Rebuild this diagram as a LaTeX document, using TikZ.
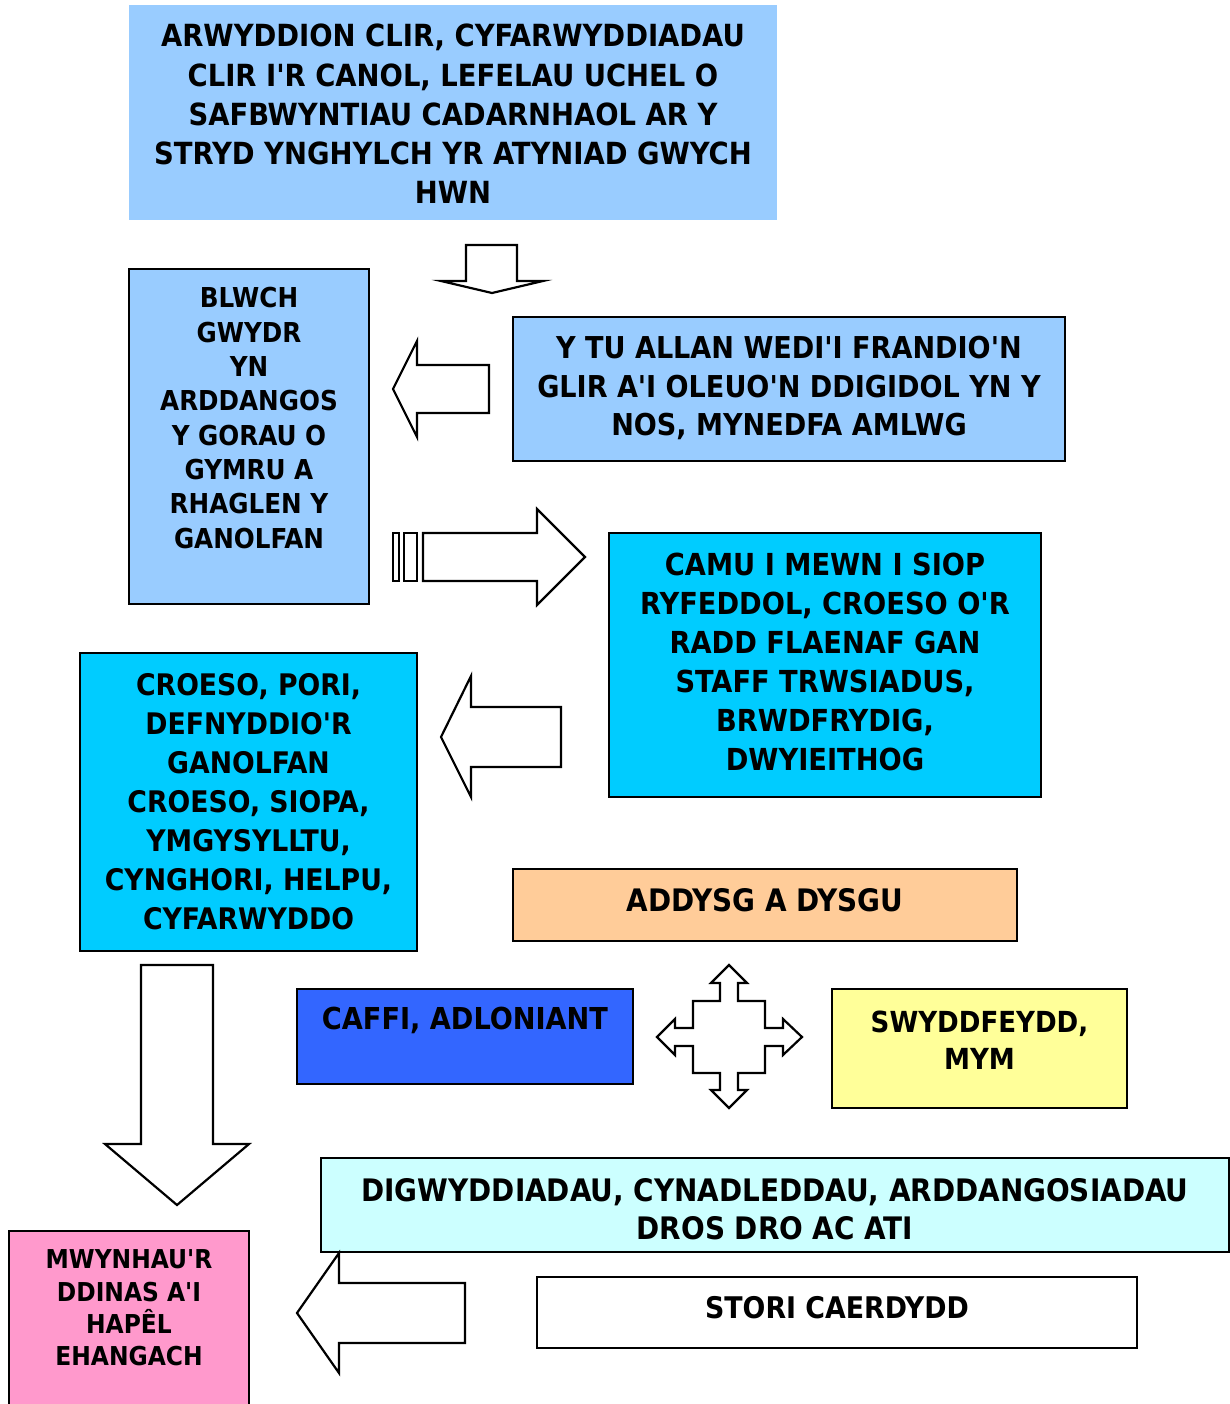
\documentclass[tikz,border=0pt]{standalone}
\usepackage{fontspec}
\setmainfont{DejaVu Sans Condensed}[Ligatures=TeXOff]
\definecolor{lblue}{HTML}{99CCFF}
\definecolor{cyanb}{HTML}{00CCFF}
\definecolor{peach}{HTML}{FFCC99}
\definecolor{royal}{HTML}{3366FF}
\definecolor{lyellow}{HTML}{FFFF99}
\definecolor{lcyan}{HTML}{CCFFFF}
\definecolor{pink}{HTML}{FF99CC}
\newcommand{\fs}[2]{\bfseries\fontsize{#1}{#2}\selectfont}
\begin{document}
\begin{tikzpicture}[x=1pt,y=-1pt,
  box/.style={draw=black, line width=2.2pt, inner sep=0pt},
  txt/.style={align=center, inner sep=0pt, font=\fs{30.2}{39}},
  blk/.style={draw=black, line width=2.2pt, fill=white, line join=miter}]
\clip (0,0) rectangle (1230,1404);
\fill[white] (0,0) rectangle (1230,1404);

% boxes
\node[box, draw=none, fill=lblue, minimum width=648pt, minimum height=215pt] (top) at (453,112.5) {};
\node[txt, font=\fs{30.5}{39.3}] (topT) at (453,114) {ARWYDDION CLIR, CYFARWYDDIADAU\\CLIR I'R CANOL, LEFELAU UCHEL O\\SAFBWYNTIAU CADARNHAOL AR Y\\STRYD YNGHYLCH YR ATYNIAD GWYCH\\HWN};

\node[box, fill=lblue, minimum width=240pt, minimum height=335pt] (blwch) at (249,436.5) {};
\node[txt, font=\fs{27.4}{34.3}] (blwchT) at (249,418) {BLWCH\\GWYDR\\YN\\ARDDANGOS\\Y GORAU O\\GYMRU A\\RHAGLEN Y\\GANOLFAN};

\node[box, fill=lblue, minimum width=552pt, minimum height=144pt] (tu) at (789,389) {};
\node[txt, font=\fs{30.1}{38.5}] (tuT) at (789,388) {Y TU ALLAN WEDI'I FRANDIO'N\\GLIR A'I OLEUO'N DDIGIDOL YN Y\\NOS, MYNEDFA AMLWG};

\node[box, fill=cyanb, minimum width=432pt, minimum height=264pt] (camu) at (825,665) {};
\node[txt, font=\fs{30.3}{39}] (camuT) at (825,662) {CAMU I MEWN I SIOP\\RYFEDDOL, CROESO O'R\\RADD FLAENAF GAN\\STAFF TRWSIADUS,\\BRWDFRYDIG,\\DWYIEITHOG};

\node[box, fill=cyanb, minimum width=337pt, minimum height=298pt] (croeso) at (248.5,802) {};
\node[txt, font=\fs{29.7}{39}] (croesoT) at (248.5,802) {CROESO, PORI,\\DEFNYDDIO'R\\GANOLFAN\\CROESO, SIOPA,\\YMGYSYLLTU,\\CYNGHORI, HELPU,\\CYFARWYDDO};

\node[box, fill=peach, minimum width=504pt, minimum height=72pt] (addysg) at (765,905) {};
\node[txt, font=\fs{31}{39}] (addysgT) at (765,900) {ADDYSG A DYSGU};

\node[box, fill=royal, minimum width=336pt, minimum height=95pt] (caffi) at (465,1036.5) {};
\node[txt, font=\fs{30.2}{39}] (caffiT) at (465,1020) {CAFFI, ADLONIANT};

\node[box, fill=lyellow, minimum width=295pt, minimum height=119pt] (swydd) at (979.5,1048.5) {};
\node[txt, font=\fs{29}{37}] (swyddT) at (979.5,1040) {SWYDDFEYDD,\\MYM};

\node[box, fill=lcyan, minimum width=908pt, minimum height=94pt] (digw) at (775,1205) {};
\node[txt, font=\fs{31}{38}] (digwT) at (775,1209) {DIGWYDDIADAU, CYNADLEDDAU, ARDDANGOSIADAU\\DROS DRO AC ATI};

\node[box, fill=pink, minimum width=240pt, minimum height=189pt] (mwyn) at (129,1325.5) {};
\node[txt, font=\fs{26}{32.4}] (mwynT) at (129,1308) {MWYNHAU'R\\DDINAS A'I\\HAPÊL\\EHANGACH};

\node[box, fill=white, minimum width=600pt, minimum height=71pt] (stori) at (837,1312.5) {};
\node[txt, font=\fs{29.8}{39}] (storiT) at (837,1308) {STORI CAERDYDD};

% block arrows
\draw[blk] (466,245) -- (517,245) -- (517,281) -- (543,281) -- (492,293) -- (441,281) -- (466,281) -- cycle;
\draw[blk] (489,365) -- (417,365) -- (417,341) -- (393,389) -- (417,437) -- (417,413) -- (489,413) -- cycle;
\draw[blk] (393,533) rectangle (399,581);
\draw[blk] (404,533) rectangle (417,581);
\draw[blk] (423,533) -- (537,533) -- (537,509) -- (585,557) -- (537,605) -- (537,581) -- (423,581) -- cycle;
\draw[blk] (561,707) -- (471,707) -- (471,676) -- (441,737) -- (471,797) -- (471,767) -- (561,767) -- cycle;
\draw[blk] (729,965) -- (747,983) -- (738,983) -- (738,1001) -- (765,1001) -- (765,1028) -- (783,1028) -- (783,1019) -- (802,1037) -- (783,1055) -- (783,1046) -- (765,1046) -- (765,1073) -- (738,1073) -- (738,1090) -- (747,1090) -- (729,1108) -- (711,1090) -- (720,1090) -- (720,1073) -- (693,1073) -- (693,1046) -- (675,1046) -- (675,1055) -- (657,1037) -- (675,1019) -- (675,1028) -- (693,1028) -- (693,1001) -- (720,1001) -- (720,983) -- (711,983) -- cycle;
\draw[blk] (141,965) -- (213,965) -- (213,1144) -- (249,1144) -- (177,1205) -- (105,1144) -- (141,1144) -- cycle;
\draw[blk] (465,1283) -- (339,1283) -- (339,1253) -- (297,1313) -- (339,1373) -- (339,1343) -- (465,1343) -- cycle;
\end{tikzpicture}
\end{document}
